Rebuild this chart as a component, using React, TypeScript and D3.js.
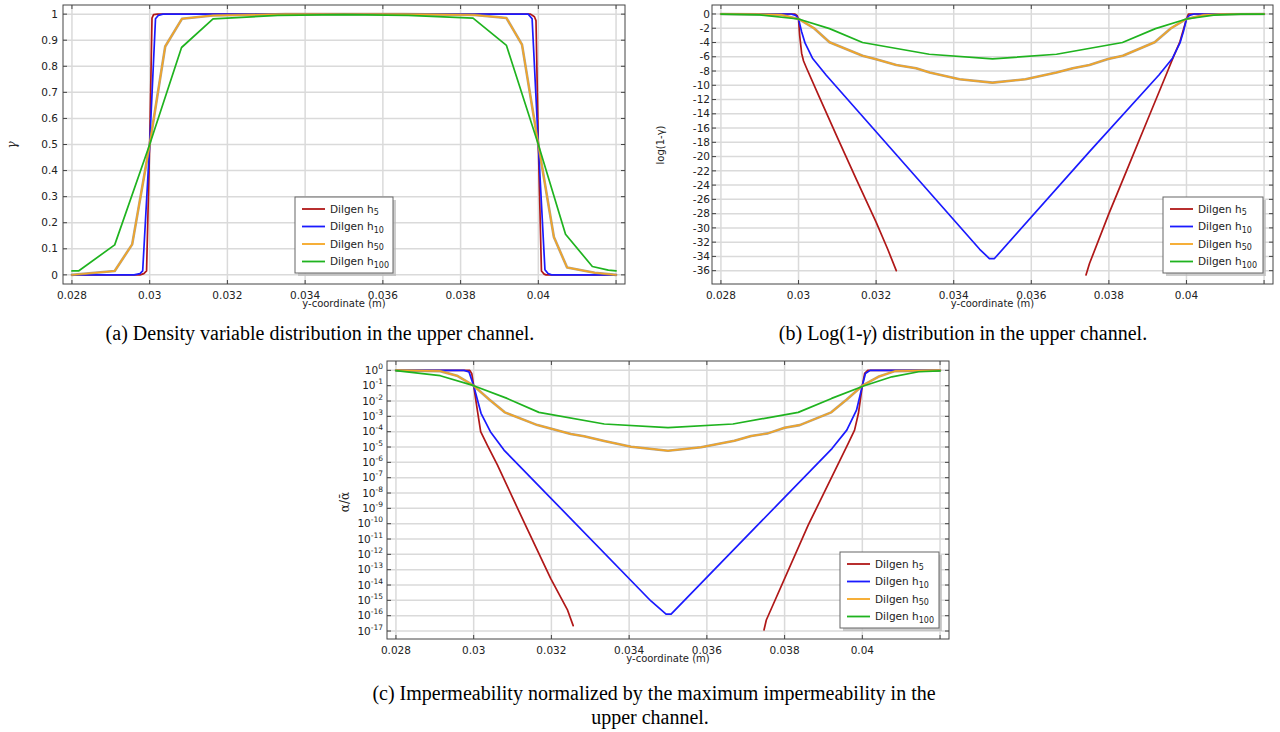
import React from "react";
import * as d3 from "d3";

type Pt = [number, number];

// ---------- shared axis data ----------
const xTicks = [0.028, 0.03, 0.032, 0.034, 0.036, 0.038, 0.04, 0.042];
const xTickLabels = ["0.028", "0.03", "0.032", "0.034", "0.036", "0.038", "0.04", ""];
const gammaTicks = [0, 0.1, 0.2, 0.3, 0.4, 0.5, 0.6, 0.7, 0.8, 0.9, 1];
const gammaTickLabels = ["0", "0.1", "0.2", "0.3", "0.4", "0.5", "0.6", "0.7", "0.8", "0.9", "1"];
const logTicks = [0, -2, -4, -6, -8, -10, -12, -14, -16, -18, -20, -22, -24, -26, -28, -30, -32, -34, -36];
const alphaTickExponents = [0, -1, -2, -3, -4, -5, -6, -7, -8, -9, -10, -11, -12, -13, -14, -15, -16, -17];
const seriesSubscripts = ["5", "10", "50", "100"];
const seriesColors = ["#b01818", "#1a1aff", "#f5a623", "#1fb31f"];

// ---------- (a) density variable gamma ----------
const gammaH5: Pt[] = [
  [0.028, 0], [0.02975, 0], [0.02985, 0.005], [0.02992, 0.015], [0.03, 0.5], [0.03006, 0.985],
  [0.0301, 0.998], [0.0302, 1], [0.0398, 1], [0.0399, 0.99], [0.03994, 0.975], [0.04, 0.5],
  [0.04008, 0.015], [0.04015, 0.003], [0.0402, 0], [0.042, 0],
];
const gammaH10: Pt[] = [
  [0.028, 0], [0.0296, 0], [0.02975, 0.005], [0.02982, 0.015], [0.03, 0.5], [0.03015, 0.982],
  [0.03022, 0.995], [0.03034, 1], [0.03974, 1], [0.03984, 0.982], [0.04, 0.5], [0.04017, 0.02],
  [0.04025, 0.005], [0.04034, 0], [0.042, 0],
];
const gammaH50: Pt[] = [
  [0.028, 0], [0.0291, 0.015], [0.02955, 0.117], [0.03, 0.5], [0.0304, 0.876], [0.03083, 0.982],
  [0.03163, 0.995], [0.0335, 1], [0.0365, 1], [0.03835, 0.997], [0.03918, 0.985], [0.03958, 0.883],
  [0.04, 0.5], [0.0404, 0.145], [0.04074, 0.028], [0.04145, 0.008], [0.042, 0],
];
const gammaH100: Pt[] = [
  [0.028, 0.015], [0.02817, 0.015], [0.0291, 0.115], [0.03, 0.5], [0.03082, 0.872], [0.03163, 0.982],
  [0.0333, 0.995], [0.035, 0.998], [0.03665, 0.995], [0.03832, 0.985], [0.03918, 0.88], [0.04, 0.5],
  [0.0407, 0.156], [0.04139, 0.032], [0.0418, 0.018], [0.042, 0.015],
];

// ---------- (b) log(1 - gamma) ----------
const logH5Left: Pt[] = [
  [0.028, 0], [0.0299, 0], [0.02996, -0.2], [0.03, -0.7], [0.03003, -3], [0.03008, -5.5],
  [0.03013, -6.6], [0.0302, -7.5], [0.0305, -11.2], [0.031, -17.3], [0.0315, -23.3],
  [0.032, -29.2], [0.0323, -33], [0.03252, -36],
];
const logH5Right: Pt[] = [
  [0.03741, -36.6], [0.0375, -35], [0.038, -28], [0.0385, -21.4], [0.039, -14.8], [0.0395, -8.2],
  [0.03965, -6.2], [0.03983, -3.9], [0.04, -0.7], [0.04005, 0], [0.042, 0],
];
const logH10: Pt[] = [
  [0.028, 0], [0.0298, 0], [0.02993, -0.2], [0.03, -0.7], [0.03008, -2.5], [0.03017, -4.1],
  [0.03036, -6.2], [0.03071, -8.55], [0.0325, -19.6], [0.03467, -33], [0.03492, -34.3],
  [0.03505, -34.3], [0.0375, -19.3], [0.03929, -8.55], [0.03964, -6.2], [0.03983, -4.1],
  [0.03992, -2.5], [0.04, -0.7], [0.04007, -0.2], [0.0402, 0], [0.042, 0],
];
const logH50: Pt[] = [
  [0.028, 0], [0.029, -0.05], [0.02955, -0.12], [0.03, -0.7], [0.0304, -2.0], [0.0308, -3.97],
  [0.03165, -5.85], [0.032, -6.36], [0.03252, -7.15], [0.03303, -7.6], [0.03338, -8.2],
  [0.03415, -9.16], [0.035, -9.63], [0.03585, -9.16], [0.03665, -8.2], [0.03707, -7.6],
  [0.0375, -7.15], [0.03798, -6.3], [0.03836, -5.85], [0.03918, -3.97], [0.0396, -2.0],
  [0.04, -0.7], [0.04045, -0.15], [0.0409, -0.03], [0.042, 0],
];
const logH100: Pt[] = [
  [0.028, -0.015], [0.029, -0.12], [0.03, -0.7], [0.0308, -2.05], [0.03165, -4.0], [0.03337, -5.65],
  [0.035, -6.3], [0.03665, -5.65], [0.03835, -4.0], [0.0392, -2.05], [0.04, -0.7], [0.0407, -0.17],
  [0.0414, -0.03], [0.042, -0.015],
];

// ---------- (c) normalized impermeability alpha / alpha-bar ----------
const alphaH5Left: Pt[] = [
  [0.028, 1], [0.0299, 1], [0.02995, 0.631], [0.03, 0.1], [0.0301, 2.0e-3], [0.03018, 1e-4],
  [0.03035, 1.35e-5], [0.03061, 6.76e-7], [0.03129, 1.35e-10], [0.03198, 2.75e-14],
  [0.03241, 2.51e-16], [0.03256, 2.24e-17],
];
const alphaH5Right: Pt[] = [
  [0.03747, 1.17e-17], [0.03753, 5.25e-17], [0.03861, 8.32e-11], [0.03965, 2.0e-5],
  [0.0398, 1.26e-4], [0.0399, 1.58e-3], [0.04, 0.1], [0.04006, 0.631], [0.04014, 1], [0.042, 1],
];
const alphaH10: Pt[] = [
  [0.028, 1], [0.02975, 1], [0.02988, 0.794], [0.03, 0.1], [0.03019, 1.58e-3], [0.03043, 1e-4],
  [0.03078, 6.31e-6], [0.03456, 9.12e-16], [0.03495, 1.26e-16], [0.03508, 1.26e-16],
  [0.03922, 7.94e-6], [0.0396, 1.26e-4], [0.03985, 2.51e-3], [0.04, 0.1], [0.04008, 0.631],
  [0.0402, 1], [0.042, 1],
];
const alphaH50: Pt[] = [
  [0.028, 1], [0.02914, 0.891], [0.02957, 0.447], [0.03, 0.1], [0.0304, 0.0126], [0.0308, 1.82e-3],
  [0.03164, 2.69e-4], [0.0325, 7.08e-5], [0.03284, 5.01e-5], [0.03336, 2.51e-5], [0.03405, 1.05e-5],
  [0.035, 5.75e-6], [0.03585, 9.55e-6], [0.03671, 2.57e-5], [0.03714, 5.25e-5], [0.03757, 7.76e-5],
  [0.038, 1.82e-4], [0.03839, 2.69e-4], [0.0392, 1.82e-3], [0.0396, 0.0126], [0.04, 0.1],
  [0.04041, 0.38], [0.04084, 0.891], [0.042, 1],
];
const alphaH100: Pt[] = [
  [0.028, 0.955], [0.02914, 0.447], [0.03, 0.1], [0.03086, 0.0148], [0.03168, 1.82e-3],
  [0.03336, 3.16e-4], [0.035, 1.82e-4], [0.03667, 3.16e-4], [0.03835, 1.82e-3], [0.03921, 0.0148],
  [0.04005, 0.1], [0.04076, 0.38], [0.04145, 0.813], [0.042, 0.912],
];

// ---------- captions ----------
const captionA = "(a) Density variable distribution in the upper channel.";
const captionB = ["(b) Log(1-", "γ", ") distribution in the upper channel."];
const captionC = [
  "(c) Impermeability normalized by the maximum impermeability in the",
  "upper channel.",
];

const SANS = "'DejaVu Sans', Verdana, sans-serif";
const SERIF = "'Liberation Serif', 'Times New Roman', serif";

type SeriesDef = { idx: number; parts: Pt[][] };

type PanelProps = {
  left: number;
  top: number;
  right: number;
  bottom: number;
  xDomain: [number, number];
  yLog?: boolean;
  yDomain: [number, number];
  yTicks: number[];
  renderYLabel: (i: number, x: number, y: number) => React.ReactNode;
  yLabelGap: number;
  series: SeriesDef[];
  legend: { x: number; y: number; w: number; h: number };
  yTitle: React.ReactNode;
};

function Panel(p: PanelProps) {
  const x = d3.scaleLinear().domain(p.xDomain).range([p.left, p.right]);
  const y = p.yLog
    ? d3.scaleLog().domain(p.yDomain).range([p.bottom, p.top])
    : d3.scaleLinear().domain(p.yDomain).range([p.bottom, p.top]);
  const line = d3
    .line<Pt>()
    .x((d) => x(d[0]))
    .y((d) => y(d[1]));
  const tickLen = 4;
  const cx = (p.left + p.right) / 2;
  const rows = [12, 29.5, 47, 64.5];
  return (
    <g>
      {/* grid */}
      {xTicks.map((t, i) => (
        <line key={"gx" + i} x1={x(t)} x2={x(t)} y1={p.top} y2={p.bottom} stroke="#dadada" strokeWidth={1.5} />
      ))}
      {p.yTicks.map((t, i) => (
        <line key={"gy" + i} x1={p.left} x2={p.right} y1={y(t)} y2={y(t)} stroke="#dadada" strokeWidth={1.5} />
      ))}
      {/* inward ticks */}
      {xTicks.map((t, i) => (
        <g key={"tx" + i} stroke="#444" strokeWidth={1}>
          <line x1={x(t)} x2={x(t)} y1={p.bottom} y2={p.bottom - tickLen} />
          <line x1={x(t)} x2={x(t)} y1={p.top} y2={p.top + tickLen} />
        </g>
      ))}
      {p.yTicks.map((t, i) => (
        <g key={"ty" + i} stroke="#444" strokeWidth={1}>
          <line x1={p.left} x2={p.left + tickLen} y1={y(t)} y2={y(t)} />
          <line x1={p.right} x2={p.right - tickLen} y1={y(t)} y2={y(t)} />
        </g>
      ))}
      {/* series */}
      <g fill="none" strokeLinejoin="round" strokeLinecap="round">
        {p.series.map((s) =>
          s.parts.map((part, j) => (
            <g key={"s" + s.idx + "_" + j}>
              {s.idx === 2 && (
                <path d={line(part) || ""} stroke="#9a8a70" strokeWidth={2.6} strokeOpacity={0.8} />
              )}
              <path d={line(part) || ""} stroke={seriesColors[s.idx]} strokeWidth={s.idx === 2 ? 1.5 : 1.7} />
            </g>
          ))
        )}
      </g>
      {/* frame */}
      <rect x={p.left} y={p.top} width={p.right - p.left} height={p.bottom - p.top} fill="none" stroke="#444" strokeWidth={1} />
      {/* x tick labels */}
      {xTicks.map((t, i) => (
        <text key={"lx" + i} x={x(t)} y={p.bottom + 14.5} textAnchor="middle" fontFamily={SANS} fontSize={10.5} fill="#222">
          {xTickLabels[i]}
        </text>
      ))}
      <text x={cx} y={p.bottom + 23} textAnchor="middle" fontFamily={SANS} fontSize={10} fill="#222">
        y-coordinate (m)
      </text>
      {/* y tick labels */}
      {p.yTicks.map((t, i) => (
        <g key={"ly" + i}>{p.renderYLabel(i, p.left - p.yLabelGap, y(t))}</g>
      ))}
      {p.yTitle}
      {/* legend */}
      <g>
        <rect x={p.legend.x + 3} y={p.legend.y + 3} width={p.legend.w} height={p.legend.h} fill="#b8b8b8" opacity={0.7} />
        <rect x={p.legend.x} y={p.legend.y} width={p.legend.w} height={p.legend.h} fill="#fff" stroke="#666" strokeWidth={1} />
        {seriesSubscripts.map((sub, i) => (
          <g key={"lg" + i}>
            <line
              x1={p.legend.x + 7}
              x2={p.legend.x + 30}
              y1={p.legend.y + rows[i]}
              y2={p.legend.y + rows[i]}
              stroke={seriesColors[i]}
              strokeWidth={1.8}
            />
            <text x={p.legend.x + 35} y={p.legend.y + rows[i] + 3.5} fontFamily={SANS} fontSize={10.5} fill="#222">
              Dilgen h
              <tspan dy={2.5} fontSize={8}>
                {sub}
              </tspan>
            </text>
          </g>
        ))}
      </g>
    </g>
  );
}

export default function App() {
  const plainLabel = (labels: string[]) => (i: number, xx: number, yy: number) => (
    <text x={xx} y={yy} dy="0.35em" textAnchor="end" fontFamily={SANS} fontSize={10.5} fill="#222">
      {labels[i]}
    </text>
  );
  const logLabels = logTicks.map((v) => String(v));
  const powLabel = (i: number, xx: number, yy: number) => (
    <text x={xx} y={yy} dy="0.35em" textAnchor="end" fontFamily={SANS} fontSize={10.5} fill="#222">
      10
      <tspan dy={-5} fontSize={7.5}>
        {String(alphaTickExponents[i])}
      </tspan>
    </text>
  );

  return (
    <svg width={1280} height={732} style={{ display: "block", position: "absolute", left: 0, top: 0 }}>
      <rect x={0} y={0} width={1280} height={732} fill="#fff" />
      <Panel
        left={63}
        top={5}
        right={625}
        bottom={284}
        xDomain={[0.02777, 0.04223]}
        yDomain={[-0.035, 1.035]}
        yTicks={gammaTicks}
        renderYLabel={plainLabel(gammaTickLabels)}
        yLabelGap={5}
        series={[
          { idx: 0, parts: [gammaH5] },
          { idx: 1, parts: [gammaH10] },
          { idx: 2, parts: [gammaH50] },
          { idx: 3, parts: [gammaH100] },
        ]}
        legend={{ x: 295, y: 197, w: 98, h: 76 }}
        yTitle={
          <text
            transform="translate(16,145) rotate(-90)"
            textAnchor="middle"
            fontFamily="'DejaVu Serif', serif"
            fontStyle="italic"
            fontSize={12}
            fill="#222"
          >
            γ
          </text>
        }
      />
      <Panel
        left={712}
        top={5}
        right={1273}
        bottom={284}
        xDomain={[0.02777, 0.04223]}
        yDomain={[-37.87, 1.26]}
        yTicks={logTicks}
        renderYLabel={plainLabel(logLabels)}
        yLabelGap={2}
        series={[
          { idx: 0, parts: [logH5Left, logH5Right] },
          { idx: 1, parts: [logH10] },
          { idx: 2, parts: [logH50] },
          { idx: 3, parts: [logH100] },
        ]}
        legend={{ x: 1163, y: 197, w: 100, h: 76 }}
        yTitle={
          <text transform="translate(664,145) rotate(-90)" textAnchor="middle" fontFamily={SANS} fontSize={10} fill="#222">
            log(1-γ)
          </text>
        }
      />
      <Panel
        left={387}
        top={361}
        right={949}
        bottom={639}
        xDomain={[0.02777, 0.04223]}
        yLog
        yDomain={[Math.pow(10, -17.52), Math.pow(10, 0.61)]}
        yTicks={alphaTickExponents.map((e) => Math.pow(10, e))}
        renderYLabel={powLabel}
        yLabelGap={4}
        series={[
          { idx: 0, parts: [alphaH5Left, alphaH5Right] },
          { idx: 1, parts: [alphaH10] },
          { idx: 2, parts: [alphaH50] },
          { idx: 3, parts: [alphaH100] },
        ]}
        legend={{ x: 840, y: 552, w: 99, h: 76 }}
        yTitle={
          <text transform="translate(349,502) rotate(-90)" textAnchor="middle" fontFamily="'DejaVu Serif', serif" fontSize={12} fill="#222">
            α/ᾱ
          </text>
        }
      />
      {/* captions */}
      <text x={320} y={340} textAnchor="middle" fontFamily={SERIF} fontSize={20} fill="#000">
        {captionA}
      </text>
      <text x={963} y={340} textAnchor="middle" fontFamily={SERIF} fontSize={20} fill="#000">
        {captionB[0]}
        <tspan fontStyle="italic">{captionB[1]}</tspan>
        {captionB[2]}
      </text>
      <text x={654} y={700} textAnchor="middle" fontFamily={SERIF} fontSize={20} fill="#000">
        {captionC[0]}
      </text>
      <text x={650} y={724} textAnchor="middle" fontFamily={SERIF} fontSize={20} fill="#000">
        {captionC[1]}
      </text>
    </svg>
  );
}
